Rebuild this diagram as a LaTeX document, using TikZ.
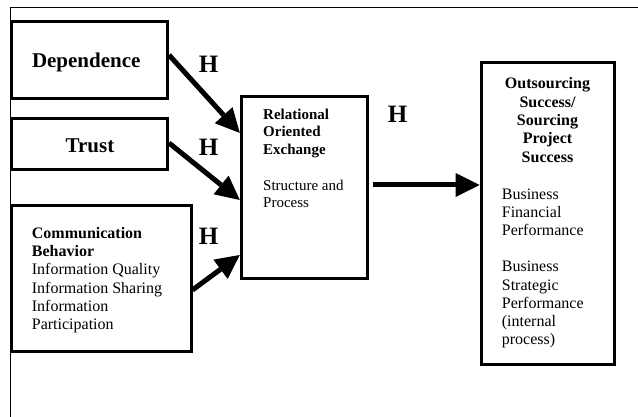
\documentclass[tikz,border=0pt]{standalone}
\usepackage{fontspec}
\setmainfont{Liberation Serif}
\usetikzlibrary{arrows.meta,calc}
\begin{document}
\begin{tikzpicture}[x=1pt,y=-1pt,
  box/.style={draw, line width=3pt, inner sep=0pt, outer sep=1.5pt},
  conn/.style={line width=5pt, -{Triangle[length=24pt,width=24pt,line width=0pt]}},
  hlab/.style={font=\fontsize{25}{28}\selectfont\bfseries, anchor=base, inner sep=0pt},
  bigtxt/.style={font=\fontsize{21}{25}\selectfont\bfseries, anchor=base, inner sep=0pt},
  txt/.style={inner sep=0pt, align=left, anchor=base west, font=\fontsize{16}{18.3}\selectfont},
  reltxt/.style={inner sep=0pt, align=left, anchor=base west, font=\fontsize{15}{17.5}\selectfont},
  frame/.style={line width=1.5pt}
]
\useasboundingbox (0,0) rectangle (638,417);
% outer frame (only top and left edges visible)
\coordinate (fbl) at (10.5,417);
\coordinate (ftl) at (10.5,7.5);
\coordinate (ftr) at (638,7.5);
\draw[frame] (fbl) -- (ftl) -- (ftr);

% boxes
\node[box, minimum width=156.5pt, minimum height=77pt] (dep) at (89.25,59.8) {};
\node[box, minimum width=156.5pt, minimum height=51.3pt] (tru) at (89.25,144.35) {};
\node[box, minimum width=180pt, minimum height=145.7pt] (com) at (101,278.15) {};
\node[box, minimum width=125.7pt, minimum height=182.5pt] (rel) at (304.15,187.45) {};
\node[box, minimum width=133pt, minimum height=301pt] (out) at (547.5,213.5) {};

% texts (multi-line nodes: base anchor = baseline of last line)
\node[bigtxt] (deptxt) at ($(dep.center)+(-3,8.2)$) {Dependence};
\node[bigtxt] (trutxt) at ($(tru.center)+(0.75,8.65)$) {Trust};
\node[txt] (comtxt) at (31.7,329.8) {\textbf{Communication}\\\textbf{Behavior}\\Information Quality\\Information Sharing\\Information\\Participation};
\node[reltxt] (reltitle) at (263,207.8) {\textbf{Relational}\\\textbf{Oriented}\\\textbf{Exchange}\\[18.5pt]Structure and\\Process};
\node[inner sep=0pt, align=center, anchor=base, font=\fontsize{16}{18.3}\selectfont\bfseries] (outtitle) at (547.5,162.2) {Outsourcing\\Success/\\Sourcing\\Project\\Success};
\node[txt] (outbody) at (501.7,344.9) {Business\\Financial\\Performance\\[17.8pt]Business\\Strategic\\Performance\\(internal\\process)};

% H labels
\node[hlab] (h1) at (208.5,72.7) {H};
\node[hlab] (h2) at (208.5,156) {H};
\node[hlab] (h3) at (208.5,244) {H};
\node[hlab] (h4) at (397.5,122.7) {H};

% connectors
\draw[conn] ($(dep.east)+(0,-4.8)$) -- ($(rel.west)+(0,-54.5)$);
\draw[conn] ($(tru.east)+(0,-1.35)$) -- ($(rel.west)+(0,12.55)$);
\draw[conn] ($(com.east)+(0,11.85)$) -- ($(rel.west)+(0,67.55)$);
\draw[conn] ($(rel.east)+(4,-2.45)$) -- ($(out.west)+(0,-28.5)$);
\end{tikzpicture}
\end{document}
